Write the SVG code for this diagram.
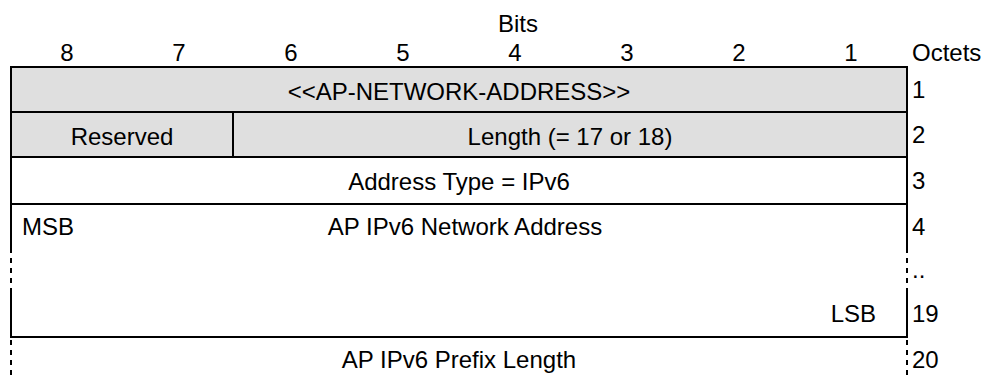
<svg xmlns="http://www.w3.org/2000/svg" width="982" height="376" viewBox="0 0 982 376">
<style>
text{font-family:"Liberation Sans",Arial,sans-serif;font-size:24px;fill:#000}
.c{text-anchor:middle}
.ln{stroke:#000;stroke-width:2;fill:none}
.ds{stroke:#000;stroke-width:2;fill:none;stroke-dasharray:5 5}
.g{fill:#dfdfdf}
</style>
<rect width="982" height="376" fill="#fff"/>
<g id="header">
<text class="c" x="518" y="32">Bits</text>
<text class="c" x="67" y="61">8</text>
<text class="c" x="179" y="61">7</text>
<text class="c" x="291" y="61">6</text>
<text class="c" x="403" y="61">5</text>
<text class="c" x="515" y="61">4</text>
<text class="c" x="627" y="61">3</text>
<text class="c" x="739" y="61">2</text>
<text class="c" x="851" y="61">1</text>
<text x="912" y="61">Octets</text>
</g>
<g id="octets">
<text x="912" y="98">1</text>
<text x="912" y="143">2</text>
<text x="912" y="189">3</text>
<text x="912" y="235">4</text>
<text x="912" y="278">..</text>
<text x="912" y="322">19</text>
<text x="912" y="368">20</text>
</g>
<g id="field-iei">
<rect class="g" x="11" y="67" width="896" height="45"/>
<text class="c" x="459" y="100">&lt;&lt;AP-NETWORK-ADDRESS&gt;&gt;</text>
</g>
<g id="field-reserved">
<rect class="g" x="11" y="112" width="222" height="45"/>
<text class="c" x="122" y="145">Reserved</text>
</g>
<g id="field-length">
<rect class="g" x="233" y="112" width="674" height="45"/>
<text class="c" x="570" y="145">Length (= 17 or 18)</text>
</g>
<g id="field-type">
<text class="c" x="459" y="190">Address Type = IPv6</text>
</g>
<g id="field-address">
<text x="22" y="235">MSB</text>
<text class="c" x="465" y="235">AP IPv6 Network Address</text>
<text text-anchor="end" x="876" y="322">LSB</text>
</g>
<g id="field-prefix">
<text class="c" x="459" y="368">AP IPv6 Prefix Length</text>
</g>
<g id="lines">
<path class="ln" d="M10 67H908M10 112H908M10 157H908M10 204H908M10 337H908M233 112V157"/>
<path class="ln" d="M11 66V248M907 66V248M11 292V338M907 292V338"/>
<path class="ds" d="M11 248V292M907 248V292M11 340V376M907 340V376"/>
</g>
</svg>
